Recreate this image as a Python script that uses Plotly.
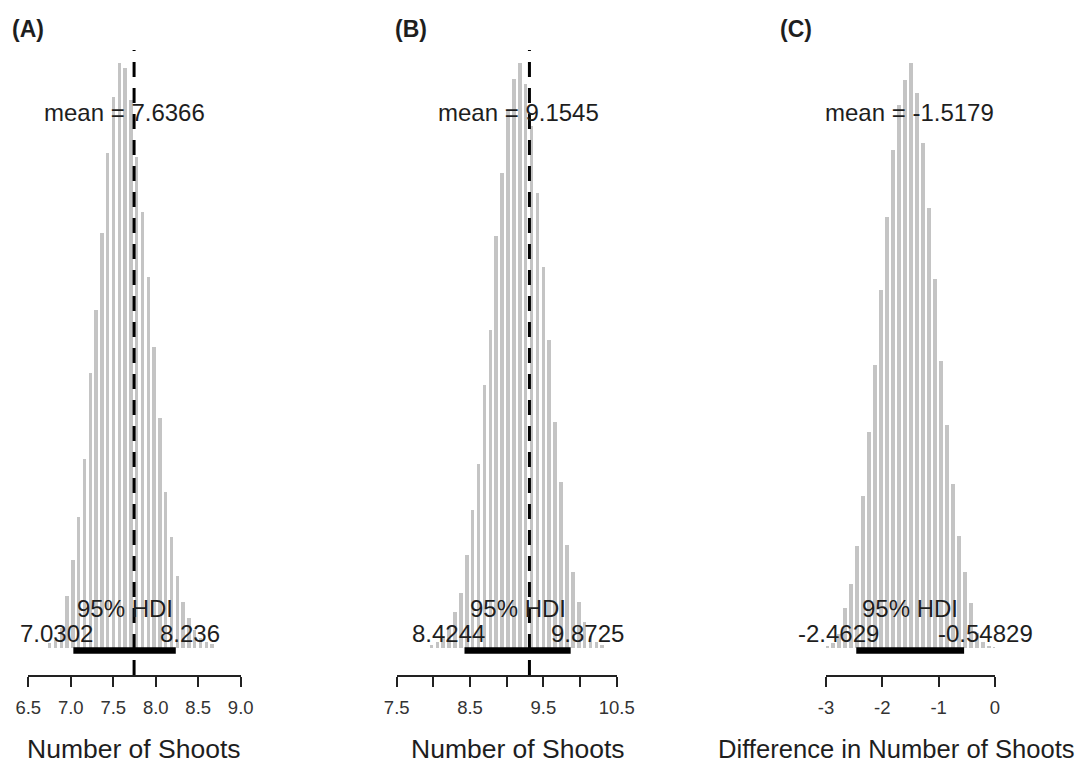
import plotly.graph_objects as go

# ---- Posterior histograms (bin centre, bar height) ----
bins_a = [6.755, 6.824, 6.892, 6.960, 7.029, 7.097, 7.165, 7.233, 7.302, 7.370,
          7.438, 7.506, 7.575, 7.643, 7.711, 7.779, 7.848, 7.916, 7.984, 8.052,
          8.121, 8.189, 8.257, 8.326, 8.394, 8.462, 8.530, 8.599, 8.667]
freq_a = [5, 8, 20, 52, 88, 131, 189, 275, 338, 415,
          495, 551, 585, 580, 548, 491, 436, 371, 301, 230,
          156, 111, 72, 46, 30, 18, 10, 6, 4]

bins_b = [7.970, 8.051, 8.131, 8.210, 8.291, 8.371, 8.452, 8.532, 8.613, 8.693,
          8.772, 8.853, 8.933, 9.014, 9.094, 9.175, 9.255, 9.334, 9.415, 9.495,
          9.576, 9.656, 9.737, 9.817, 9.897, 9.978, 10.057, 10.137, 10.218, 10.298]
freq_b = [3, 6, 12, 21, 36, 55, 93, 138, 184, 263,
          318, 412, 475, 538, 569, 585, 564, 522, 455, 381,
          308, 226, 166, 103, 76, 46, 26, 12, 6, 3]

bins_c = [-2.982, -2.876, -2.769, -2.663, -2.556, -2.450, -2.343, -2.237, -2.130, -2.024,
          -1.917, -1.811, -1.704, -1.598, -1.491, -1.385, -1.278, -1.172, -1.065, -0.959,
          -0.852, -0.745, -0.639, -0.532, -0.426, -0.319, -0.213, -0.106, -0.004]
freq_c = [2, 5, 14, 40, 64, 102, 152, 216, 283, 358,
          431, 498, 543, 568, 585, 555, 505, 440, 369, 287,
          223, 164, 112, 76, 45, 15, 6, 2, 1]

# ---- Summary statistics ----
means = [7.6366, 9.1545, -1.5179]
hdi_low = [7.0302, 8.4244, -2.4629]
hdi_high = [8.236, 9.8725, -0.54829]
hdi_low_text = ["7.0302", "8.4244", "-2.4629"]
hdi_high_text = ["8.236", "9.8725", "-0.54829"]
mean_text = ["7.6366", "9.1545", "-1.5179"]
ref_lines = [7.745, 9.31, None]

panel_labels = ["(A)", "(B)", "(C)"]
axis_titles = ["Number of Shoots", "Number of Shoots", "Difference in Number of Shoots"]

tick_vals = [[6.5, 7.0, 7.5, 8.0, 8.5, 9.0],
             [7.5, 8.0, 8.5, 9.0, 9.5, 10.0, 10.5],
             [-3, -2, -1, 0]]
tick_text = [["6.5", "7.0", "7.5", "8.0", "8.5", "9.0"],
             ["7.5", "", "8.5", "", "9.5", "", "10.5"],
             ["-3", "-2", "-1", "0"]]
x_ranges = [[6.5, 9.0], [7.5, 10.5], [-3, 0]]

# ---- page geometry (pixels) ----
W, H = 1079, 764
x_domains_px = [(28.3, 240.7), (396.7, 616.7), (826, 995)]
# (x position, anchor, font size) of each axis title
title_place = [(134, "center", 26.5), (517.5, "center", 26.5), (1077, "right", 25.6)]
label_left_px = [10, 393, 778]
y_bottom_px, y_top_px = 675, 40
y_range = [-27, 608]

FONT = "Liberation Sans, Arial, sans-serif"
TXT = "#1e1e1e"
BAR = "#c4c4c4"

CHAR_W = {".": 0.278, "-": 0.333, "%": 0.889, " ": 0.278, "H": 0.722, "D": 0.722, "I": 0.278}


def text_width(s, size):
    return sum(CHAR_W.get(ch, 0.556) for ch in s) * size


fig = go.Figure()
layout = dict(
    width=W, height=H,
    margin=dict(l=0, r=0, t=0, b=0, autoexpand=False),
    paper_bgcolor="white", plot_bgcolor="white",
    showlegend=False, bargap=0,
    font=dict(family=FONT, color=TXT),
)
annotations = []
shapes = []

bins = [bins_a, bins_b, bins_c]
freqs = [freq_a, freq_b, freq_c]

for i in range(3):
    sfx = "" if i == 0 else str(i + 1)
    xa, ya = "x" + sfx, "y" + sfx
    step = bins[i][1] - bins[i][0]

    fig.add_trace(go.Bar(
        x=bins[i], y=freqs[i], width=step * 0.6,
        marker=dict(color=BAR, line=dict(width=0)),
        xaxis=xa, yaxis=ya, hoverinfo="skip",
    ))
    # HDI bar
    fig.add_trace(go.Scatter(
        x=[hdi_low[i], hdi_high[i]], y=[-2.5, -2.5], mode="lines",
        line=dict(color="black", width=6.5),
        xaxis=xa, yaxis=ya, hoverinfo="skip",
    ))

    d0, d1 = x_domains_px[i]
    layout["xaxis" + sfx] = dict(
        domain=[d0 / W, d1 / W], range=x_ranges[i], anchor=ya,
        showline=True, linecolor="#222", linewidth=1.5,
        ticks="outside", ticklen=10, tickwidth=1.5, tickcolor="#222",
        tickvals=tick_vals[i], ticktext=tick_text[i],
        tickfont=dict(size=18.5, color="#333", family=FONT),
        ticklabelstandoff=5,
        showgrid=False, zeroline=False, fixedrange=True,
    )
    layout["yaxis" + sfx] = dict(
        domain=[1 - y_bottom_px / H, 1 - y_top_px / H], range=y_range,
        anchor=xa, visible=False, fixedrange=True,
    )

    if ref_lines[i] is not None:
        shapes.append(dict(
            type="line", xref=xa, yref=ya,
            x0=ref_lines[i], x1=ref_lines[i], y0=y_range[0], y1=598,
            line=dict(color="black", width=3, dash="15px,11px"), layer="above",
        ))

    annotations.append(dict(
        x=means[i], y=535, xref=xa, yref=ya, text="mean = " + mean_text[i],
        showarrow=False, xanchor="center", yanchor="middle",
        font=dict(size=24, color=TXT),
    ))
    annotations.append(dict(
        x=(hdi_low[i] + hdi_high[i]) / 2, y=40, xref=xa, yref=ya, text="95% HDI",
        showarrow=False, xanchor="center", yanchor="middle",
        font=dict(size=24, color=TXT),
    ))
    annotations.append(dict(
        x=hdi_low[i], y=15, xref=xa, yref=ya, text=hdi_low_text[i],
        showarrow=False, xanchor="right", yanchor="middle",
        xshift=0.3 * text_width(hdi_low_text[i], 24),
        font=dict(size=24, color=TXT),
    ))
    annotations.append(dict(
        x=hdi_high[i], y=15, xref=xa, yref=ya, text=hdi_high_text[i],
        showarrow=False, xanchor="left", yanchor="middle",
        xshift=-0.3 * text_width(hdi_high_text[i], 24),
        font=dict(size=24, color=TXT),
    ))
    # axis title and panel tag (paper coordinates; margins do not auto-expand)
    tx, tanchor, tsize = title_place[i]
    annotations.append(dict(
        x=tx / W, y=1 - 749 / H, xref="paper", yref="paper",
        text=axis_titles[i], showarrow=False, xanchor=tanchor, yanchor="middle",
        font=dict(size=tsize, color=TXT),
    ))
    annotations.append(dict(
        x=label_left_px[i] / W, y=1 - 29 / H, xref="paper", yref="paper",
        text="<b>" + panel_labels[i] + "</b>", showarrow=False,
        xanchor="left", yanchor="middle",
        font=dict(size=23, color=TXT),
    ))

layout["annotations"] = annotations
layout["shapes"] = shapes
fig.update_layout(**layout)

fig.write_html("out.html")
